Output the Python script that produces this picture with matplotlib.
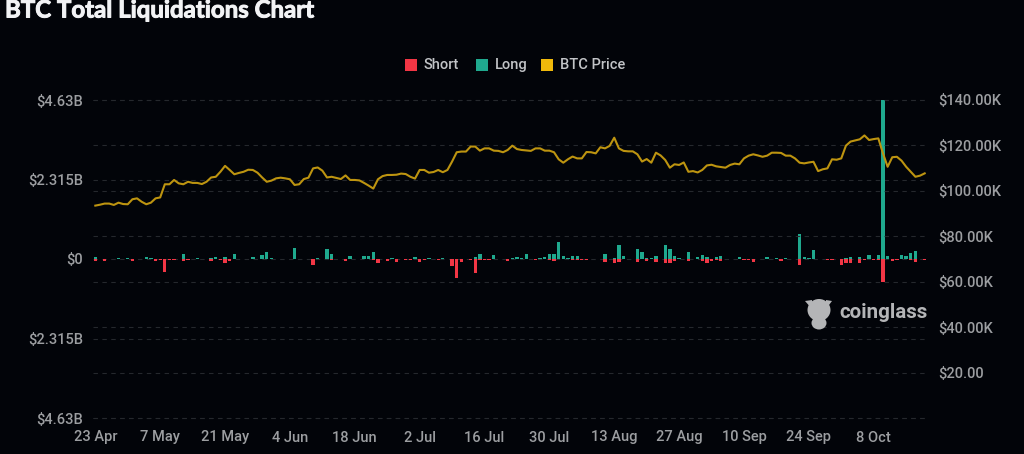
# BTC liquidations chart
import matplotlib
matplotlib.use('Agg')
import matplotlib.pyplot as plt
import matplotlib.patheffects as pe
from matplotlib.patches import Rectangle, Ellipse, Polygon
import numpy as np

W, H = 1024, 454

long_m = [48,10,10,10,10,29,10,39,10,10,
          10,58,29,5,5,5,5,5,10,154,
          5,10,39,10,10,39,48,10,48,5,
          154,10,10,10,58,10,116,202,39,10,
          10,10,10,308,10,10,10,5,29,10,
          289,144,10,10,5,77,10,10,96,96,
          193,5,10,5,19,5,10,5,5,67,
          5,5,39,10,5,29,10,5,5,5,
          10,5,48,144,5,5,125,10,10,5,
          29,48,39,144,10,5,29,48,135,144,
          482,77,29,77,96,5,5,10,10,10,
          154,10,29,404,96,10,10,289,193,29,
          29,77,10,404,289,96,19,10,193,10,
          58,125,48,5,48,87,5,5,10,48,
          5,5,5,10,10,58,10,19,5,39,
          10,10,722,48,39,270,10,5,5,5,
          5,5,29,58,10,67,5,116,5,116,
          4630,96,5,5,125,77,173,221,10,5]

short_m = [48,0,58,5,5,5,5,5,67,5,
           5,5,5,48,29,385,29,39,5,48,
           19,5,5,5,5,67,5,39,116,48,
           5,5,5,5,5,5,5,5,5,5,
           10,5,10,5,10,5,10,183,5,5,
           5,39,5,5,48,5,5,5,5,5,
           29,116,5,48,5,87,5,19,19,5,
           87,29,5,5,29,5,5,193,549,87,
           5,29,414,19,39,39,5,5,5,48,
           5,5,5,5,5,29,5,5,39,48,
           5,5,5,29,29,29,29,10,10,10,
           96,5,116,87,5,5,5,96,5,48,
           5,96,5,116,116,48,5,5,48,5,
           5,58,116,58,29,48,5,5,5,5,
           29,19,77,5,5,5,5,5,58,5,
           5,5,164,5,5,5,5,5,29,29,
           5,173,116,125,5,125,39,5,29,29,
           674,5,67,29,5,5,29,96,5,19]

price_k = [93.5,93.9,94.4,94.4,93.8,94.8,94.2,94.1,96.3,96.7,
           95.2,94.1,94.8,96.7,97.1,102.9,102.9,104.8,103.3,102.9,
           104.0,103.5,103.5,103.0,104.0,105.9,106.2,108.4,111.0,109.2,
           107.3,107.9,108.4,109.3,109.2,108.0,105.9,104.0,104.5,105.5,
           105.8,105.5,105.1,102.6,102.9,105.2,105.8,109.9,110.3,108.9,
           105.9,106.2,105.7,105.2,106.8,104.8,104.8,104.6,103.5,102.3,
           101.0,105.1,106.5,107.0,107.0,107.1,107.6,107.4,106.2,105.4,
           109.2,109.2,108.0,108.3,109.2,108.2,109.2,112.9,117.0,117.3,
           117.3,119.5,119.5,117.7,118.7,118.7,117.7,117.6,117.0,118.0,
           119.9,118.4,118.0,117.8,117.6,118.7,118.7,117.7,117.7,117.0,
           113.9,112.4,113.9,115.1,114.3,114.3,117.1,117.0,116.5,119.2,
           118.7,119.8,123.4,118.7,117.6,117.4,117.4,116.1,112.9,114.0,
           112.4,116.8,115.6,113.6,110.2,111.7,111.4,112.5,108.4,108.7,
           108.1,109.2,111.2,111.5,110.8,110.5,110.2,111.4,112.0,111.7,
           114.3,115.5,116.1,115.6,115.0,115.5,116.8,116.8,116.7,115.5,
           115.5,114.3,112.4,112.1,112.5,112.8,108.7,109.5,109.9,113.9,
           113.7,114.3,119.9,121.7,122.2,122.7,124.4,122.4,122.8,123.1,
           116.5,110.6,114.8,115.0,113.3,110.6,108.4,106.2,106.7,107.7]

date_labels = ['23 Apr', '7 May', '21 May', '4 Jun', '18 Jun', '2 Jul', '16 Jul',
               '30 Jul', '13 Aug', '27 Aug', '10 Sep', '24 Sep', '8 Oct']
left_ticks = [-4630, -2315, 0, 2315, 4630]
left_labels = ['$4.63B', '$2.315B', '$0', '$2.315B', '$4.63B']
right_ticks = [0, 20, 40, 60, 80, 100, 120, 140]
right_labels = ['', '$20.00', '$40.00K', '$60.00K', '$80.00K', '$100.00K', '$120.00K', '$140.00K']

BG = '#020409'
GRID = '#25282d'
TXT = '#9c9ea1'
RED = '#f23645'
TEAL = '#1fa98e'
GOLD = '#f0b90b'
LINE = '#bd9410'

plt.rcParams['font.family'] = ['Roboto', 'DejaVu Sans']

fig = plt.figure(figsize=(W / 100, H / 100), dpi=100, facecolor=BG)
ax = fig.add_axes([93 / W, 1 - 418 / H, 834 / W, 318 / H], facecolor=BG)
ax2 = ax.twinx()

x = np.arange(len(long_m))
ax.bar(x, long_m, width=0.72, color=TEAL, linewidth=0, zorder=3)
ax.bar(x, -np.array(short_m), width=0.72, color=RED, linewidth=0, zorder=3)
ax2.plot(x, price_k, color=LINE, lw=1.5, zorder=4)

ax.set_xlim(-0.5, len(long_m) - 0.5)
ax.set_ylim(-4630, 4630)
ax2.set_ylim(0, 140)

ax.set_xticks(x[::14][:len(date_labels)])
ax.set_xticklabels(date_labels)
ax.set_yticks(left_ticks)
ax.set_yticklabels(left_labels)
ax2.set_yticks(right_ticks)
ax2.set_yticklabels(right_labels)

for a in (ax, ax2):
    for s in a.spines.values():
        s.set_visible(False)
    a.grid(axis='y', color=GRID, ls=(0, (4, 4)), lw=0.8)
    a.set_axisbelow(True)
    a.tick_params(length=0, labelcolor=TXT, labelsize=10.5)
    for gl in a.get_ygridlines():
        gl.set_clip_on(False)
    for lab in a.get_xticklabels() + a.get_yticklabels():
        lab.set_fontweight('medium')
ax.tick_params(axis='y', pad=7)
ax.tick_params(axis='x', pad=9)
ax2.tick_params(axis='y', pad=8)
ax2.patch.set_visible(False)

# title and legend
title = fig.text(5 / W, 1 - 10 / H, 'BTC Total Liquidations Chart', color='#f2f3f5',
                 fontsize=17.3, fontweight='bold', family=['Lato', 'DejaVu Sans'],
                 va='center', ha='left')
title.set_path_effects([pe.withStroke(linewidth=0.7, foreground='#f2f3f5')])

for x0, col, name, tx in [(405, RED, 'Short', 424), (476, TEAL, 'Long', 495), (541, GOLD, 'BTC Price', 560)]:
    fig.add_artist(Rectangle((x0 / W, 1 - 71 / H), 12 / W, 12 / H, color=col,
                             transform=fig.transFigure, linewidth=0))
    fig.text(tx / W, 1 - 65 / H, name, color='#c2c4c7', fontsize=10.5,
             fontweight='medium', va='center', ha='left')

# watermark
WM = '#b4b5b7'
fig.text(839 / W, 1 - 313 / H, 'coinglass', color=WM, fontsize=14.8, fontweight='bold',
         va='center', ha='left')
fig.add_artist(Ellipse((819 / W, 1 - 310 / H), 23 / W, 22 / H, color=WM,
                       transform=fig.transFigure, linewidth=0))
fig.add_artist(Ellipse((819 / W, 1 - 323 / H), 15 / W, 13 / H, color=WM,
                       transform=fig.transFigure, linewidth=0))
for pts in ([(805, 301), (812, 300), (812, 309)], [(832, 301), (826, 300), (826, 309)]):
    fig.add_artist(Polygon([(a / W, 1 - b / H) for a, b in pts], color=WM,
                           transform=fig.transFigure, linewidth=0))

fig.savefig('out.png', dpi=100, facecolor=BG)
